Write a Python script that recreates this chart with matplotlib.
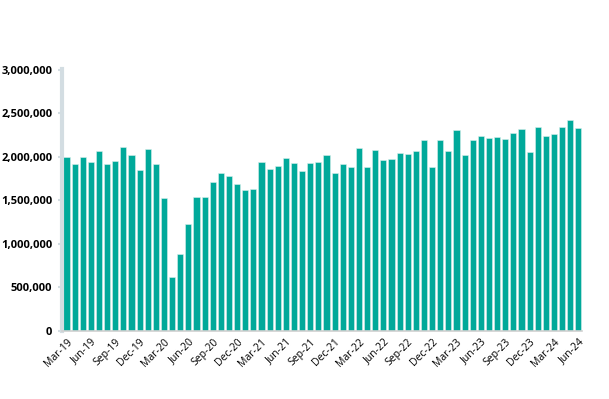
import matplotlib.pyplot as plt
import numpy as np

# monthly values, Mar-19 .. Jun-24
months = ['Mar', 'Apr', 'May', 'Jun', 'Jul', 'Aug', 'Sep', 'Oct', 'Nov', 'Dec', 'Jan', 'Feb']
labels = []
yr = 19
for i in range(64):
    m = months[i % 12]
    if m == 'Jan' and i > 0:
        yr += 1
    labels.append(f'{m}-{yr}')

values = [1995000, 1922000, 2002000, 1937000, 2071000, 1918000, 1953000, 2113000,
          2025000, 1853000, 2090000, 1922000, 1529000, 619000, 879000, 1234000,
          1540000, 1540000, 1716000, 1811000, 1785000, 1689000, 1617000, 1628000,
          1941000, 1857000, 1895000, 1983000, 1934000, 1834000, 1930000, 1939000,
          2025000, 1815000, 1918000, 1880000, 2102000, 1880000, 2083000, 1968000,
          1976000, 2041000, 2029000, 2067000, 2190000, 1880000, 2190000, 2071000,
          2312000, 2025000, 2197000, 2243000, 2220000, 2228000, 2205000, 2278000,
          2324000, 2052000, 2346000, 2243000, 2258000, 2339000, 2427000, 2335000]

y_ticks = [0, 500000, 1000000, 1500000, 2000000, 2500000, 3000000]

fig = plt.figure(figsize=(6.09, 3.99), dpi=100)
ax = fig.add_axes([62 / 609, 68 / 399, 520 / 609, 262 / 399])

x = np.arange(len(values))
ax.bar(x, values, width=0.75, color='#00a99a', edgecolor='#d8efec', linewidth=0.4)

ax.set_xlim(-0.55, 63.45)
ax.set_ylim(0, 3010000)
ax.set_yticks(y_ticks)
ax.set_yticklabels([f'{v:,}' for v in y_ticks], fontfamily='Open Sans',
                   fontweight='bold', fontsize=8)
ax.set_xticks(x[::3])
ax.set_xticklabels(labels[::3], rotation=45, ha='right', rotation_mode='anchor',
                   fontfamily='Open Sans', fontsize=7.5)

for s in ['top', 'right']:
    ax.spines[s].set_visible(False)
ax.spines['left'].set_color('#d3dde2')
ax.spines['left'].set_linewidth(3)
ax.spines['bottom'].set_color('#d0d0d0')
ax.spines['bottom'].set_linewidth(1.2)
ax.tick_params(axis='y', length=3, width=1.5, color='#d3dde2', pad=4)
ax.tick_params(axis='x', length=0, pad=4)

fig.savefig('out.png', dpi=100)
